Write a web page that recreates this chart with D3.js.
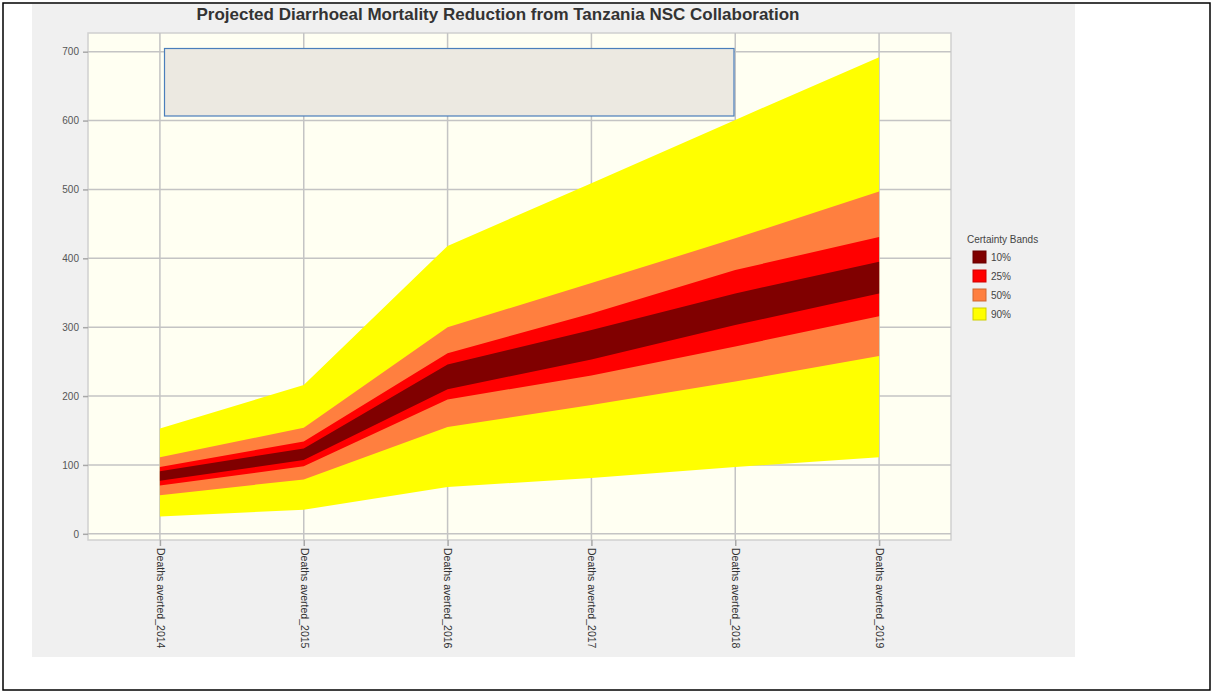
<!DOCTYPE html>
<html>
<head>
<meta charset="utf-8">
<script src="https://cdn.jsdelivr.net/npm/d3@7"></script>
<style>
  html, body { margin: 0; padding: 0; background: #ffffff; }
  svg { display: block; }
  text { font-family: "Liberation Sans", Arial, sans-serif; }
</style>
</head>
<body>
<svg id="chart" width="1213" height="693"></svg>
<script>
// Categories along the x axis
const categories = [
  "Deaths averted_2014", "Deaths averted_2015", "Deaths averted_2016",
  "Deaths averted_2017", "Deaths averted_2018", "Deaths averted_2019"
];

// Certainty band limits (upper / lower) per year
const band90Upper = [153, 216, 418, 509, 601, 692];
const band50Upper = [111, 154, 300, 364, 429, 497];
const band25Upper = [97, 134, 262, 320, 383, 431];
const band10Upper = [91, 124, 246, 296, 349, 395];
const band10Lower = [77, 107, 210, 253, 303, 349];
const band25Lower = [70, 98, 195, 230, 272, 316];
const band50Lower = [56, 79, 155, 187, 221, 258];
const band90Lower = [25, 35, 68, 81, 97, 111];

const yTicks = [0, 100, 200, 300, 400, 500, 600, 700];
const bandNames = ["10%", "25%", "50%", "90%"];
const bandColors = ["#800000", "#ff0000", "#ff7f3f", "#ffff00"];

const svg = d3.select("#chart");

// Page frame and chart panel
svg.append("rect").attr("x", 3).attr("y", 3).attr("width", 1207).attr("height", 687)
  .attr("fill", "#ffffff").attr("stroke", "#000").attr("stroke-width", 1.5);
svg.append("rect").attr("x", 32).attr("y", 4).attr("width", 1043).attr("height", 653)
  .attr("fill", "#f0f0f0");

const plot = { left: 88, top: 33, right: 951, bottom: 540 };

const x = d3.scalePoint().domain(categories).range([plot.left, plot.right]).padding(0.5);
const y = d3.scaleLinear().domain([0, 700]).range([533.8, 51.7]);

// Plot background
svg.append("rect").attr("x", plot.left).attr("y", plot.top)
  .attr("width", plot.right - plot.left).attr("height", plot.bottom - plot.top)
  .attr("fill", "#fffff2").attr("stroke", "#d0d0d0").attr("stroke-width", 1.5);

// Gridlines
const grid = svg.append("g").attr("stroke", "#c4c4c4").attr("stroke-width", 1.5);
grid.selectAll("line.h").data(yTicks).join("line")
  .attr("x1", plot.left).attr("x2", plot.right)
  .attr("y1", d => y(d)).attr("y2", d => y(d));
grid.selectAll("line.v").data(categories).join("line")
  .attr("x1", d => x(d)).attr("x2", d => x(d))
  .attr("y1", plot.top).attr("y2", plot.bottom);

// Bands, widest first
const bands = [
  { name: "90%", upper: band90Upper, lower: band90Lower, color: bandColors[3] },
  { name: "50%", upper: band50Upper, lower: band50Lower, color: bandColors[2] },
  { name: "25%", upper: band25Upper, lower: band25Lower, color: bandColors[1] },
  { name: "10%", upper: band10Upper, lower: band10Lower, color: bandColors[0] }
];
const area = d3.area()
  .x(d => x(d.cat))
  .y0(d => y(d.lo))
  .y1(d => y(d.hi));
svg.append("g").selectAll("path").data(bands).join("path")
  .attr("d", b => area(categories.map((c, i) => ({ cat: c, lo: b.lower[i], hi: b.upper[i] }))))
  .attr("fill", b => b.color);

// Empty legend box inside plot
svg.append("rect").attr("x", 164.5).attr("y", 48.5).attr("width", 569.5).attr("height", 67.5)
  .attr("fill", "#ece9e1").attr("stroke", "#4a7ebb").attr("stroke-width", 1.2);

// Y axis
const yAxis = d3.axisLeft(y).tickValues(yTicks).tickSize(5).tickPadding(4);
const gy = svg.append("g").attr("transform", `translate(${plot.left},0)`).call(yAxis);
gy.select(".domain").remove();
gy.selectAll(".tick line").attr("stroke", "#a8a8a8").attr("stroke-width", 1.5);
gy.selectAll(".tick text").attr("fill", "#555").attr("font-size", 10)
  .attr("font-family", "Liberation Sans, Arial, sans-serif");

// X axis with vertical labels
const xAxis = d3.axisBottom(x).tickSize(6).tickPadding(0);
const gx = svg.append("g").attr("transform", `translate(0,${plot.bottom})`).call(xAxis);
gx.select(".domain").remove();
gx.selectAll(".tick line").attr("stroke", "#a8a8a8").attr("stroke-width", 1.5);
gx.selectAll(".tick text")
  .attr("fill", "#333").attr("font-size", 10.5)
  .attr("font-family", "Liberation Sans, Arial, sans-serif")
  .attr("transform", "rotate(90)")
  .attr("text-anchor", "start")
  .attr("x", 8).attr("y", 0).attr("dy", "0.35em");

// Title
svg.append("text").attr("x", 498).attr("y", 20).attr("text-anchor", "middle")
  .attr("font-size", 16.5).attr("font-weight", "bold").attr("fill", "#333")
  .attr("textLength", 603).attr("lengthAdjust", "spacingAndGlyphs")
  .text("Projected Diarrhoeal Mortality Reduction from Tanzania NSC Collaboration");

// Legend
const legend = svg.append("g");
legend.append("text").attr("x", 967).attr("y", 243).attr("font-size", 10).attr("fill", "#444")
  .text("Certainty Bands");
const items = legend.selectAll("g.item").data(bandNames).join("g")
  .attr("transform", (d, i) => `translate(973,${251 + i * 19})`);
items.append("rect").attr("width", 13).attr("height", 12)
  .attr("fill", (d, i) => bandColors[i])
  .attr("stroke", (d, i) => d3.color(bandColors[i]).darker(0.6)).attr("stroke-width", 1);
items.append("text").attr("x", 18).attr("y", 10).attr("font-size", 10).attr("fill", "#444")
  .text(d => d);
</script>
</body>
</html>
